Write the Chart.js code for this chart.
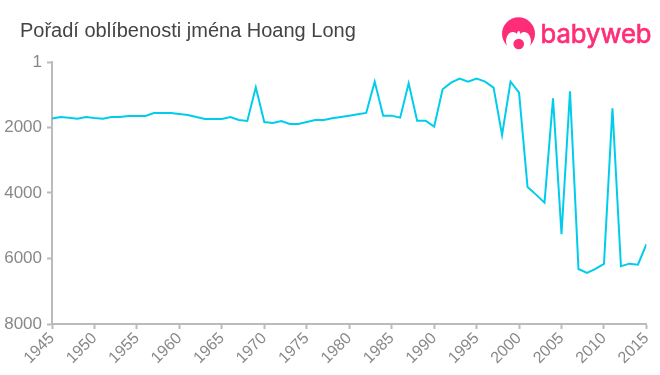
<!DOCTYPE html>
<html>
<head>
<meta charset="utf-8">
<script src="https://cdn.jsdelivr.net/npm/chart.js@4"></script>
<style>
html,body{margin:0;padding:0;background:#fff}
#wrap{position:relative;width:660px;height:375px;overflow:hidden}
#title{position:absolute;left:20px;top:18px;font:20px/24px "Liberation Sans",Arial,sans-serif;color:#444}
#logo{position:absolute;left:0;top:0}
canvas{position:absolute;left:0;top:0}
</style>
</head>
<body>
<div id="wrap">
  <canvas id="chart" width="660" height="375"></canvas>
  <div id="title">Pořadí oblíbenosti jména Hoang Long</div>
  <svg id="logo" width="660" height="60">
    <circle cx="518.5" cy="33.8" r="16.5" fill="#ff2d78"/>
    <path d="M506 42 C506 36 509 32 513 32 C515 32 516 33 517 34 C517 32 518 31 519 31 C520 31 520 33 520 34 C521 33 522 32 524 32 C528 32 531 36 531 42 L529 51 L508 51 Z" fill="#fff"/>
    <circle cx="518.7" cy="44" r="5.3" fill="#ff2d78"/>
    <text x="540.5" y="43" font-family="Inter" font-size="26" fill="#ff2d78" stroke="#ff2d78" stroke-width="0.7" textLength="111" lengthAdjust="spacingAndGlyphs">babyweb</text>
  </svg>
</div>
<script>
const years = [1945,1946,1947,1948,1949,1950,1951,1952,1953,1954,1955,1956,1957,1958,1959,1960,1961,1962,1963,1964,1965,1966,1967,1968,1969,1970,1971,1972,1973,1974,1975,1976,1977,1978,1979,1980,1981,1982,1983,1984,1985,1986,1987,1988,1989,1990,1991,1992,1993,1994,1995,1996,1997,1998,1999,2000,2001,2002,2003,2004,2005,2006,2007,2008,2009,2010,2011,2012,2013,2014,2015]
const ranks = [1730,1680,1700,1730,1680,1710,1730,1680,1680,1650,1650,1650,1557,1557,1557,1588,1619,1680,1740,1740,1740,1680,1771,1802,774,1832,1863,1802,1893,1893,1832,1771,1771,1720,1680,1639,1598,1557,600,1639,1639,1700,652,1792,1792,1975,835,631,509,600,509,600,784,2229,600,937,3817,4050,4295,1110,5260,896,6320,6440,6320,6167,1416,6237,6158,6189,5565]
const xTicks = [1945,1950,1955,1960,1965,1970,1975,1980,1985,1990,1995,2000,2005,2010,2015]
const yTicks = [1,2000,4000,6000,8000]

const axisColor = "#bbb"
const labelColor = "#888"

new Chart(document.getElementById("chart"), {
    type: "line",
    data: {
        datasets: [{
            data: years.map((y, i) => ({x: y, y: ranks[i]})),
            borderColor: "#00cdec",
            borderWidth: 2,
            pointRadius: 0,
            tension: 0,
            fill: false
        }]
    },
    options: {
        responsive: false,
        animation: false,
        layout: {padding: {top: 62, right: 11, left: 0, bottom: 0}},
        plugins: {legend: {display: false}, title: {display: false}, tooltip: {enabled: false}},
        scales: {
            x: {
                type: "linear",
                min: 1945,
                max: 2015,
                afterBuildTicks: s => { s.ticks = xTicks.map(v => ({value: v})) },
                afterFit: s => { s.height = 51 },
                border: {color: axisColor, width: 2},
                grid: {drawOnChartArea: false, color: axisColor, tickLength: 5, tickWidth: 2},
                ticks: {
                    color: labelColor,
                    font: {family: "Liberation Sans", size: 16},
                    minRotation: 45,
                    maxRotation: 45,
                    padding: 0,
                    callback: v => String(v)
                }
            },
            y: {
                reverse: true,
                min: 1,
                max: 8000,
                afterBuildTicks: s => { s.ticks = yTicks.map(v => ({value: v})) },
                afterFit: s => { s.width = 52 },
                border: {color: axisColor, width: 2},
                grid: {drawOnChartArea: false, color: axisColor, tickLength: 5, tickWidth: 2},
                ticks: {
                    color: labelColor,
                    font: {family: "Liberation Sans", size: 17},
                    padding: 5,
                    callback: v => String(v)
                }
            }
        }
    }
})
</script>
</body>
</html>
